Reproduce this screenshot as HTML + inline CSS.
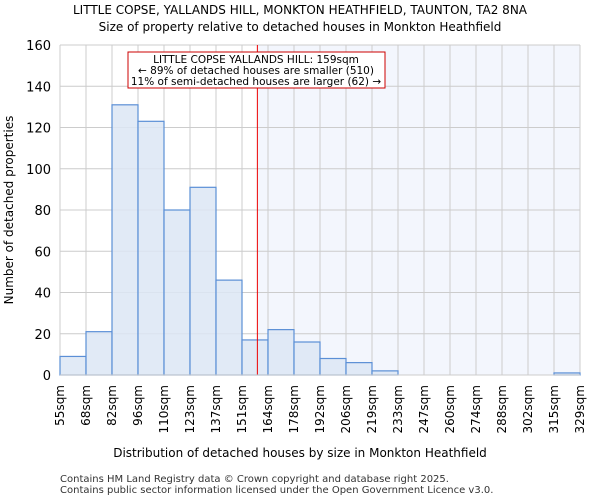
<!DOCTYPE html>
<html><head><meta charset="utf-8"><style>
body{margin:0;background:#fff;font-family:"DejaVu Sans","Liberation Sans",sans-serif}
</style></head><body>
<svg width="600" height="500" xmlns="http://www.w3.org/2000/svg" font-family="DejaVu Sans, Liberation Sans, sans-serif">
<text x="300" y="14" text-anchor="middle" font-size="12">LITTLE COPSE, YALLANDS HILL, MONKTON HEATHFIELD, TAUNTON, TA2 8NA</text>
<text x="300" y="31" text-anchor="middle" font-size="12">Size of property relative to detached houses in Monkton Heathfield</text>
<g id="plot"></g>
<text x="300" y="457" text-anchor="middle" font-size="12">Distribution of detached houses by size in Monkton Heathfield</text>
<text transform="translate(13,210) rotate(-90)" text-anchor="middle" font-size="12">Number of detached properties</text>
<text x="60" y="482" font-size="10" fill="#333">Contains HM Land Registry data © Crown copyright and database right 2025.</text>
<text x="60" y="493" font-size="10" fill="#333">Contains public sector information licensed under the Open Government Licence v3.0.</text>
</svg>
<script>
const labels=["55sqm","68sqm","82sqm","96sqm","110sqm","123sqm","137sqm","151sqm","164sqm","178sqm","192sqm","206sqm","219sqm","233sqm","247sqm","260sqm","274sqm","288sqm","302sqm","315sqm","329sqm"];
const edges=[55,68.7,82.4,96.1,109.8,123.5,137.2,150.9,164.6,178.3,192,205.7,219.4,233.1,246.8,260.5,274.2,287.9,301.6,315.3,329];
const counts=[9,21,131,123,80,91,46,17,22,16,8,6,2,0,0,0,0,0,0,1];
const yTicks=[0,20,40,60,80,100,120,140,160];
const propSize=159;
const ns="http://www.w3.org/2000/svg";
const L=60,R=580,T=45,B=375,yMax=160;
const xs=v=>L+(v-edges[0])/(edges[edges.length-1]-edges[0])*(R-L);
const ys=v=>B-v/yMax*(B-T);
const g=document.getElementById('plot');
function mk(t,a){const e=document.createElementNS(ns,t);for(const k in a)e.setAttribute(k,a[k]);g.appendChild(e);return e;}
const px=xs(propSize);
let sh=mk('rect',{x:px,y:T,width:R-px,height:B-T,fill:"#f3f6fd"});


yTicks.forEach(v=>{
 let l=mk('line',{x1:L,x2:R,y1:ys(v),y2:ys(v),stroke:"#ccc"});
 
 
 let t=mk('text',{x:L-9,y:ys(v)+5,"text-anchor":"end","font-size":"13"});t.textContent=v;
 
 
});
edges.forEach((e,i)=>{
 let l=mk('line',{x1:xs(e),x2:xs(e),y1:T,y2:B,stroke:"#ccc"});
 
 
 let t=mk('text',{transform:`translate(${xs(e)+4},${B+10}) rotate(-90)`,"text-anchor":"end","font-size":"12"});t.textContent=labels[i];
 
 
});
counts.forEach((c,i)=>{
 if(c<=0)return;
 let r=mk('rect',{x:xs(edges[i]),y:ys(c),width:xs(edges[i+1])-xs(edges[i]),height:B-ys(c),fill:"#dce6f5","fill-opacity":"0.85",stroke:"#5b8fd6","stroke-width":"1.2"});
 
 
});
let pl=mk('line',{x1:px,x2:px,y1:T,y2:B,stroke:"#e00","stroke-width":"1"});


let box=mk('rect',{x:128,y:52,width:257,height:36,fill:"#fff",stroke:"#c00"});


["LITTLE COPSE YALLANDS HILL: 159sqm","← 89% of detached houses are smaller (510)","11% of semi-detached houses are larger (62) →"].forEach((s,i)=>{
 let t=mk('text',{x:256,y:63+i*11,"text-anchor":"middle","font-size":"10.5"});t.textContent=s;
 
 
});
let ax=mk('line',{x1:L,x2:R,y1:B,y2:B,stroke:"#ccc"});


</script>
</body></html>
